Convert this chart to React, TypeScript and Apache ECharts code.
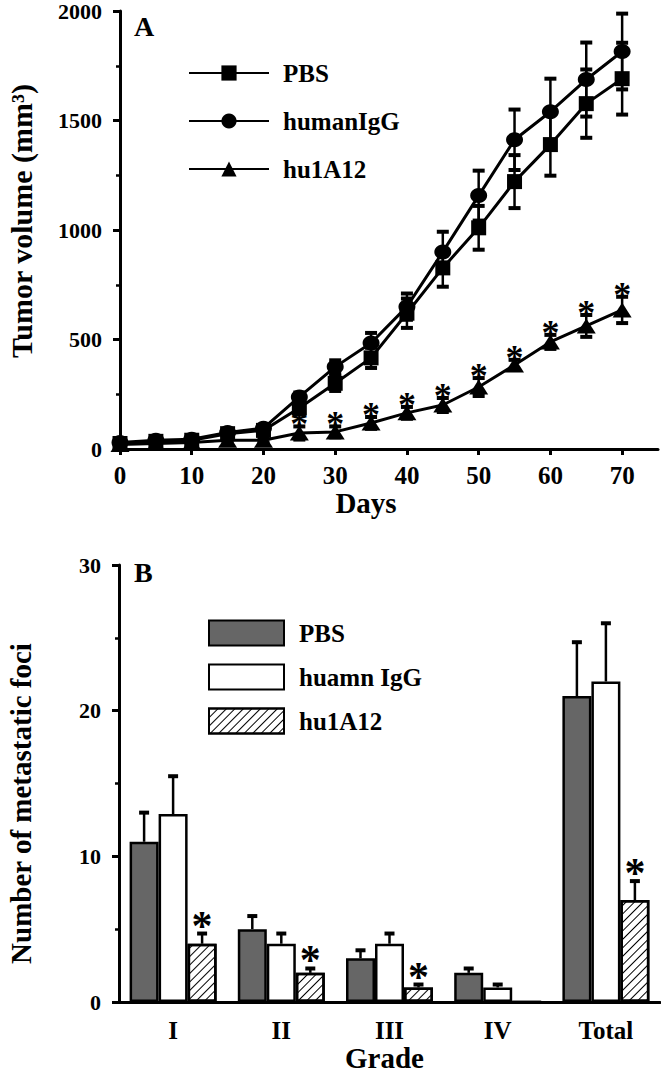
import React, { useEffect, useRef } from 'react';
import * as echarts from 'echarts';

const FONT = '"Liberation Serif", "Times New Roman", Times, serif';

// ---------- Panel A data ----------
const days = [0, 5, 10, 15, 20, 25, 30, 35, 40, 45, 50, 55, 60, 65, 70];
const dayTicks = [0, 10, 20, 30, 40, 50, 60, 70];
const pbsMean = [25, 35, 40, 70, 85, 187, 300, 416, 620, 827, 1010, 1221, 1390, 1577, 1691];
const pbsErr = [8, 8, 8, 10, 12, 30, 35, 46, 67, 86, 100, 121, 142, 156, 164];
const igMean = [30, 40, 45, 75, 95, 238, 375, 484, 650, 900, 1157, 1412, 1540, 1687, 1815];
const igErr = [8, 8, 8, 10, 12, 20, 30, 46, 60, 92, 114, 138, 151, 169, 173];
const huMean = [20, 25, 30, 40, 40, 73, 78, 119, 165, 201, 283, 384, 489, 562, 635];
const huErr = [5, 5, 5, 8, 10, 30, 25, 27, 27, 32, 41, 23, 32, 50, 60];
const huSigA = [0, 0, 0, 0, 0, 1, 1, 1, 1, 1, 1, 1, 1, 1, 1];

// ---------- Panel B data ----------
const grades = ['I', 'II', 'III', 'IV', 'Total'];
const pbsB = [11, 5, 3, 2, 21];
const pbsBErr = [2, 0.9, 0.55, 0.3, 3.7];
const igB = [12.9, 4, 4, 1, 22];
const igBErr = [2.6, 0.7, 0.7, 0.2, 4];
const huB = [4, 2, 1, 0, 7];
const huBErr = [0.7, 0.3, 0.2, 0, 1.3];
const huSigB = [1, 1, 1, 0, 1];

const legendNamesB: Record<string, string> = { B_PBS: 'PBS', B_IgG: 'huamn IgG', B_hu: 'hu1A12' };

const BAR_W = 29;

function errBothRender(params: any, api: any) {
  const x = api.value(0), m = api.value(1), e = api.value(2);
  const p1 = api.coord([x, m + e]);
  const p2 = api.coord([x, m - e]);
  const cap = 6;
  return {
    type: 'group',
    children: [
      { type: 'line', shape: { x1: p1[0], y1: p1[1], x2: p2[0], y2: p2[1] }, style: { stroke: '#000', lineWidth: 2.5 } },
      { type: 'line', shape: { x1: p1[0] - cap, y1: p1[1], x2: p1[0] + cap, y2: p1[1] }, style: { stroke: '#000', lineWidth: 4 } },
      { type: 'line', shape: { x1: p2[0] - cap, y1: p2[1], x2: p2[0] + cap, y2: p2[1] }, style: { stroke: '#000', lineWidth: 4 } },
    ],
  };
}

function starRender(offsetPx: number, size: number, dx: number) {
  return (params: any, api: any) => {
    const p = api.coord([api.value(0), api.value(1)]);
    return {
      type: 'text',
      x: p[0] + dx,
      y: p[1] - offsetPx,
      style: { text: '*', fontSize: size, fontWeight: 'bold', fontFamily: FONT, fill: '#000', align: 'center', verticalAlign: 'middle' },
    };
  };
}

function errUpRender(k: number) {
  return (params: any, api: any) => {
    const i = api.value(0), m = api.value(1), e = api.value(2);
    const base = api.coord([i, m]);
    const top = api.coord([i, m + e]);
    const x = base[0] + (k - 1) * BAR_W;
    const cap = 5;
    if (e <= 0) return { type: 'group', children: [] };
    return {
      type: 'group',
      children: [
        { type: 'line', shape: { x1: x, y1: base[1], x2: x, y2: top[1] }, style: { stroke: '#000', lineWidth: 2.5 } },
        { type: 'line', shape: { x1: x - cap, y1: top[1], x2: x + cap, y2: top[1] }, style: { stroke: '#000', lineWidth: 4 } },
      ],
    };
  };
}

export default function App() {
  const ref = useRef<HTMLDivElement>(null);
  useEffect(() => {
    document.body.style.margin = '0';
    const chart = echarts.init(ref.current!, null, { renderer: 'svg' });
    const labelStyle = { color: '#000', fontFamily: FONT, fontWeight: 'bold' as const, fontSize: 25 };
    const yLabelStyle = { ...labelStyle, fontSize: 22 };
    const nameStyle = { color: '#000', fontFamily: FONT, fontWeight: 'bold' as const, fontSize: 29 };
    const axisLine = { show: true, onZero: false, lineStyle: { color: '#000', width: 3 } };
    const plain = (v: number) => String(v);

    const option: any = {
      animation: false,
      backgroundColor: '#fff',
      grid: [
        { left: 120, top: 11, width: 538, height: 438, outerBoundsMode: 'none' },
        { left: 119, top: 565, width: 541, height: 437, outerBoundsMode: 'none' },
      ],
      xAxis: [
        {
          type: 'value', gridIndex: 0, min: 0, max: 75, interval: 10,
          axisLine,
          axisTick: { show: true, inside: false, length: 6, lineStyle: { width: 3, color: '#000' }, customValues: dayTicks },
          axisLabel: { ...labelStyle, margin: 14, customValues: dayTicks, formatter: plain },
          splitLine: { show: false },
          name: 'Days', nameLocation: 'middle', nameGap: 38,
          nameTextStyle: { ...nameStyle, padding: [0, 46, 0, 0] },
        },
        {
          type: 'category', gridIndex: 1, data: grades,
          axisLine,
          axisTick: { show: false },
          axisLabel: { ...labelStyle, margin: 16 },
          name: 'Grade', nameLocation: 'middle', nameGap: 38,
          nameTextStyle: { ...nameStyle, padding: [0, 10, 0, 0] },
        },
      ],
      yAxis: [
        {
          type: 'value', gridIndex: 0, min: 0, max: 2000, interval: 500,
          axisLine,
          axisTick: { show: true, inside: false, length: 7, lineStyle: { width: 3, color: '#000' } },
          minorTick: { show: true, splitNumber: 2, length: 4, lineStyle: { width: 2.5, color: '#000' } },
          axisLabel: { ...yLabelStyle, margin: 18, formatter: plain },
          splitLine: { show: false },
          name: 'Tumor volume (mm³)', nameLocation: 'middle', nameRotate: 90, nameGap: 84,
          nameTextStyle: { ...nameStyle, fontSize: 30, padding: [0, 0, 0, 18] },
        },
        {
          type: 'value', gridIndex: 1, min: 0, max: 30, interval: 10,
          axisLine,
          axisTick: { show: true, inside: false, length: 7, lineStyle: { width: 3, color: '#000' } },
          minorTick: { show: true, splitNumber: 2, length: 4, lineStyle: { width: 2.5, color: '#000' } },
          axisLabel: { ...yLabelStyle, margin: 18, formatter: plain },
          splitLine: { show: false },
          name: 'Number of metastatic foci', nameLocation: 'middle', nameRotate: 90, nameGap: 84,
          nameTextStyle: { ...nameStyle, padding: [0, 40, 0, 0] },
        },
      ],
      legend: [
        {
          data: ['PBS', 'humanIgG', 'hu1A12'], orient: 'vertical', left: 183, top: 55.5,
          itemWidth: 80, itemHeight: 19, itemGap: 23, selectedMode: false,
          textStyle: { color: '#000', fontFamily: FONT, fontWeight: 'bold', fontSize: 25, padding: [0, 0, 0, 9] },
        },
        {
          data: ['B_PBS', 'B_IgG', 'B_hu'], orient: 'vertical', left: 203, top: 614.5,
          itemWidth: 75, itemHeight: 25, itemGap: 17, selectedMode: false, icon: 'rect',
          formatter: (n: string) => legendNamesB[n] || n,
          textStyle: { color: '#000', fontFamily: FONT, fontWeight: 'bold', fontSize: 25, padding: [0, 0, 0, 10] },
        },
      ],
      graphic: [
        { type: 'text', left: 134, top: 12, style: { text: 'A', fontSize: 28, fontWeight: 'bold', fontFamily: FONT, fill: '#000' } },
        { type: 'text', left: 134, top: 558, style: { text: 'B', fontSize: 28, fontWeight: 'bold', fontFamily: FONT, fill: '#000' } },
      ],
      series: [
        // error bars A
        { type: 'custom', xAxisIndex: 0, yAxisIndex: 0, z: 1, renderItem: errBothRender, encode: { x: 0, y: 1 },
          data: days.map((d, i) => [d, pbsMean[i], pbsErr[i]]) },
        { type: 'custom', xAxisIndex: 0, yAxisIndex: 0, z: 1, renderItem: errBothRender, encode: { x: 0, y: 1 },
          data: days.map((d, i) => [d, igMean[i], igErr[i]]) },
        { type: 'custom', xAxisIndex: 0, yAxisIndex: 0, z: 1, renderItem: errBothRender, encode: { x: 0, y: 1 },
          data: days.map((d, i) => [d, huMean[i], huErr[i]]) },
        {
          name: 'PBS', type: 'line', xAxisIndex: 0, yAxisIndex: 0, z: 3,
          symbol: 'rect', symbolSize: 15, color: '#000',
          lineStyle: { color: '#000', width: 3 }, itemStyle: { color: '#000' },
          data: days.map((d, i) => [d, pbsMean[i]]),
        },
        {
          name: 'humanIgG', type: 'line', xAxisIndex: 0, yAxisIndex: 0, z: 3,
          symbol: 'circle', symbolSize: [17, 15], color: '#000',
          lineStyle: { color: '#000', width: 3 }, itemStyle: { color: '#000' },
          data: days.map((d, i) => [d, igMean[i]]),
        },
        {
          name: 'hu1A12', type: 'line', xAxisIndex: 0, yAxisIndex: 0, z: 3,
          symbol: 'triangle', symbolSize: [19, 15], color: '#000',
          lineStyle: { color: '#000', width: 3 }, itemStyle: { color: '#000' },
          data: days.map((d, i) => [d, huMean[i]]),
        },
        { type: 'custom', xAxisIndex: 0, yAxisIndex: 0, z: 4, renderItem: starRender(2, 36, 0), encode: { x: 0, y: 1 },
          data: days.map((d, i) => [d, huMean[i] + huErr[i]]).filter((_, i) => huSigA[i] === 1) },
        // Panel B bars
        {
          name: 'B_PBS', type: 'bar', xAxisIndex: 1, yAxisIndex: 1, barWidth: BAR_W, barGap: '0%', z: 2,
          itemStyle: { color: '#666666', borderColor: '#000', borderWidth: 2.5 },
          data: pbsB,
        },
        {
          name: 'B_IgG', type: 'bar', xAxisIndex: 1, yAxisIndex: 1, barWidth: BAR_W, barGap: '0%', z: 2,
          itemStyle: { color: '#ffffff', borderColor: '#000', borderWidth: 2.5 },
          data: igB,
        },
        {
          name: 'B_hu', type: 'bar', xAxisIndex: 1, yAxisIndex: 1, barWidth: BAR_W, barGap: '0%', z: 2,
          itemStyle: {
            color: '#ffffff', borderColor: '#000', borderWidth: 2.5,
            decal: { symbol: 'rect', symbolSize: 1, color: '#000', dashArrayX: [1, 0], dashArrayY: [1, 5], rotation: -Math.PI / 4 },
          },
          data: huB,
        },
        { type: 'custom', xAxisIndex: 1, yAxisIndex: 1, z: 3, renderItem: errUpRender(0), encode: { x: 0, y: 1 },
          data: grades.map((g, i) => [i, pbsB[i], pbsBErr[i]]) },
        { type: 'custom', xAxisIndex: 1, yAxisIndex: 1, z: 3, renderItem: errUpRender(1), encode: { x: 0, y: 1 },
          data: grades.map((g, i) => [i, igB[i], igBErr[i]]) },
        { type: 'custom', xAxisIndex: 1, yAxisIndex: 1, z: 3, renderItem: errUpRender(2), encode: { x: 0, y: 1 },
          data: grades.map((g, i) => [i, huB[i], huBErr[i]]) },
        { type: 'custom', xAxisIndex: 1, yAxisIndex: 1, z: 4, renderItem: starRender(8, 42, BAR_W), encode: { x: 0, y: 1 },
          data: grades.map((g, i) => [i, huB[i] + huBErr[i]]).filter((_, i) => huSigB[i] === 1) },
      ],
    };
    chart.setOption(option);
    return () => chart.dispose();
  }, []);
  return <div ref={ref} style={{ position: 'absolute', left: 0, top: 0, width: 661, height: 1073 }} />;
}
